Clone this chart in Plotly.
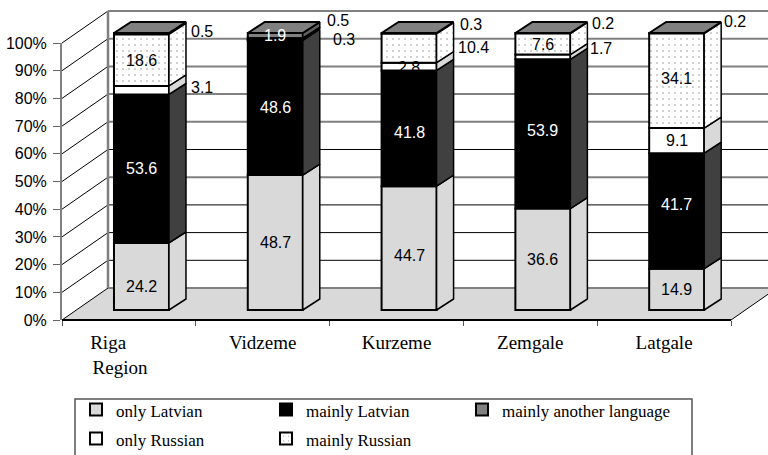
import plotly.graph_objects as go

categories = ["Riga<br>Region", "Vidzeme", "Kurzeme", "Zemgale", "Latgale"]
only_latvian = [24.2, 48.7, 44.7, 36.6, 14.9]
mainly_latvian = [53.6, 48.6, 41.8, 53.9, 41.7]
only_russian = [3.1, 0.3, 2.8, 1.7, 9.1]
mainly_russian = [18.6, 0.5, 10.4, 7.6, 34.1]
mainly_other = [0.5, 1.9, 0.3, 0.2, 0.2]
pct_ticks = list(range(0, 101, 10))

# style of series (stack order); last item of each tuple is the legend column
series = [
    ("only Latvian", only_latvian, "#d9d9d9", "#d9d9d9", None, "black", "legend"),
    ("mainly Latvian", mainly_latvian, "#000000", "#404040", None, "white", "legend2"),
    ("only Russian", only_russian, "#ffffff", "#d9d9d9", None, "black", "legend"),
    ("mainly Russian", mainly_russian, "#ffffff", "#ffffff", ".", "black", "legend2"),
    ("mainly another language", mainly_other, "#808080", "#606060", None, "white", "legend3"),
]
legend_order = [0, 1, 4, 2, 3]

W, H = 768, 455
L, R, T, B = 62, 731, 43, 320
PX = 5 / (R - L)
PY = 100 / (B - T)

wall_dx, wall_dy = 46 * PX, 32 * PY
bar_w = 55 * PX
bar_cx = 0.594
bar_dy0 = 10 * PY
bar_ddx, bar_ddy = 17 * PX, 11 * PY
dots = dict(shape=".", fgcolor="black", bgcolor="white", size=6, solidity=0.04)

fig = go.Figure()

# real axes live on x/y; this keeps that subplot alive
fig.add_trace(go.Scatter(x=[0], y=[0], mode="lines", showlegend=False, hoverinfo="skip", xaxis="x", yaxis="y"))


def poly(xs, ys, fill=None, line=None, width=1, axes=("x2", "y2"), pattern=None):
    kw = dict(
        x=xs, y=ys, mode="lines", showlegend=False, hoverinfo="skip",
        xaxis=axes[0], yaxis=axes[1],
        line=dict(color=line or "rgba(0,0,0,0)", width=width),
    )
    if fill:
        kw.update(fill="toself", fillcolor=fill)
    if pattern:
        kw.update(fill="toself", fillcolor="#ffffff", fillpattern=pattern)
    fig.add_trace(go.Scatter(**kw))


# back wall grid and floor
grid_style = {100: ("#808080", 2), 90: ("#808080", 2), 80: ("#808080", 2), 70: ("#808080", 2),
              60: ("#808080", 2), 50: ("#000000", 1), 40: ("#808080", 2), 30: ("#000000", 1),
              20: ("#000000", 1), 10: ("#000000", 1), 0: ("#808080", 2)}
poly([0, 5, 5 + wall_dx, wall_dx, 0], [0, 0, wall_dy, wall_dy, 0], fill="#d9d9d9")
for p in pct_ticks:
    c, w = grid_style[p]
    poly([wall_dx, 5 + wall_dx], [p + wall_dy, p + wall_dy], line=c, width=w)
    poly([0, wall_dx], [p, p + wall_dy], line="#000000", width=1)
poly([wall_dx, wall_dx], [wall_dy, 100 + wall_dy], line="#808080", width=2.5)
poly([5, 5 + wall_dx], [0, wall_dy], line="#000000", width=1)
poly([0, 5], [0, 0], line="#000000", width=2)

# stacking
bases = [0.0] * len(categories)
stack = []
for s in series:
    stack.append(list(bases))
    bases = [b + v for b, v in zip(bases, s[1])]

for k in legend_order:
    name, vals, col, side, pat, _, leg = series[k]
    marker = dict(color=col, line=dict(color="black", width=2))
    if pat:
        marker["pattern"] = dots
    fig.add_trace(go.Bar(
        name=f'<span style="font-size:17px">{name}</span>',
        legend=leg,
        x=[i + bar_cx for i in range(len(vals))],
        y=vals, base=[b + bar_dy0 for b in stack[k]], width=bar_w,
        marker=marker, xaxis="x3", yaxis="y3", hoverinfo="skip",
    ))

for k in legend_order:
    name, vals, col, side, pat, _, _leg = series[k]
    for i, v in enumerate(vals):
        xr = i + bar_cx + bar_w / 2
        b = stack[k][i] + bar_dy0
        t = b + v
        poly([xr, xr + bar_ddx, xr + bar_ddx, xr, xr], [b, b + bar_ddy, t + bar_ddy, t, b],
             fill=None if pat else side, line="black", width=1.5, axes=("x3", "y3"),
             pattern=dots if pat else None)

for i in range(len(categories)):
    xl = i + bar_cx - bar_w / 2
    xr = xl + bar_w
    t = bases[i] + bar_dy0
    poly([xl, xr, xr + bar_ddx, xl + bar_ddx, xl], [t, t, t + bar_ddy, t + bar_ddy, t],
         fill="#808080", line="black", width=2, axes=("x3", "y3"))

# value labels; nudges in pixels (dx, dy down)
nudge = {
    (0, 0): (0, 10), (0, 2): (0, 7),
    (1, 2): (0, 4), (1, 3): (0, -3), (1, 4): (0, -6),
    (2, 2): (0, 1), (3, 4): (0, -2),
}
side_labels = {
    (2, 0): (0, -3), (4, 0): (0, -2),
    (2, 1): (8, -1), (3, 1): (2, -18),
    (3, 2): (-1, -1), (4, 2): (1, -9),
    (2, 3): (-2, -8), (4, 3): (0, -10),
    (4, 4): (-2, -12),
}
for k, s in enumerate(series):
    for i, v in enumerate(s[1]):
        yc = stack[k][i] + v / 2 + bar_dy0
        if (k, i) in side_labels:
            dx, dy = side_labels[(k, i)]
            fig.add_annotation(x=i + bar_cx + bar_w / 2 + bar_ddx, y=yc, text=str(v), showarrow=False,
                               xanchor="left", xshift=3 + dx, yshift=-dy, xref="x2", yref="y2",
                               font=dict(family="Liberation Sans", size=16, color="black"))
        else:
            dx, dy = nudge.get((k, i), (0, 0))
            fig.add_annotation(x=i + bar_cx, y=yc, text=str(v), showarrow=False,
                               xshift=dx, yshift=-dy, xref="x2", yref="y2",
                               font=dict(family="Liberation Sans", size=16, color=s[5]))

full_x = [(0 - L) * PX, (W - L) * PX]
full_y = [(B - H) * PY, B * PY]
legend_font = dict(family="Liberation Serif", size=20, color="black")


def legend_col(x):
    return dict(orientation="v", xref="container", x=x / W, xanchor="left",
                yref="container", y=65 / H, yanchor="top", borderwidth=0,
                bgcolor="rgba(0,0,0,0)", font=legend_font, tracegroupgap=0)


fig.update_layout(
    width=W, height=H, autosize=False, plot_bgcolor="rgba(0,0,0,0)", paper_bgcolor="white",
    margin=dict(l=0, r=0, t=0, b=0, autoexpand=False), barmode="overlay",
    xaxis=dict(domain=[L / W, R / W], range=[0, 5], showgrid=False, zeroline=False, showline=False,
               tickmode="array", tickvals=[0.4335, 1.5, 2.5, 3.5, 4.5],
               ticktext=["Riga" + "\u00a0" * 5 + "<br>Region"] + categories[1:],
               ticks="", ticklabelstandoff=9,
               tickfont=dict(family="Liberation Serif", size=19, color="black"),
               minor=dict(tickmode="array", tickvals=[0, 1, 2, 3, 4, 5], ticks="outside", ticklen=5,
                          tickcolor="#555555", tickwidth=1, showgrid=False)),
    yaxis=dict(domain=[(H - B) / H, (H - T) / H], range=[0, 100], showgrid=False, zeroline=False,
               showline=True, linecolor="#808080", linewidth=2,
               tickmode="array", tickvals=pct_ticks, ticktext=[f"{p}%" for p in pct_ticks],
               ticks="outside", ticklen=7, tickcolor="#666666", ticklabelstandoff=3,
               tickfont=dict(family="Liberation Sans", size=16, color="black")),
    xaxis2=dict(domain=[0, 1], range=full_x, visible=False, anchor="y2"),
    yaxis2=dict(domain=[0, 1], range=full_y, visible=False, anchor="x2"),
    xaxis3=dict(range=full_x, overlaying="x2", visible=False, anchor="y3"),
    yaxis3=dict(range=full_y, overlaying="y2", visible=False, anchor="x3"),
    legend=legend_col(76),
    legend2=legend_col(266),
    legend3=legend_col(462),
    shapes=[dict(type="rect", xref="paper", yref="paper", x0=75 / W, x1=692 / W,
                 y0=-6 / H, y1=(H - 399) / H, line=dict(color="#555555", width=1.5), layer="below")],
)

fig.write_html("out.html", config=dict(displayModeBar=False), post_script="document.body.style.margin='0';")
